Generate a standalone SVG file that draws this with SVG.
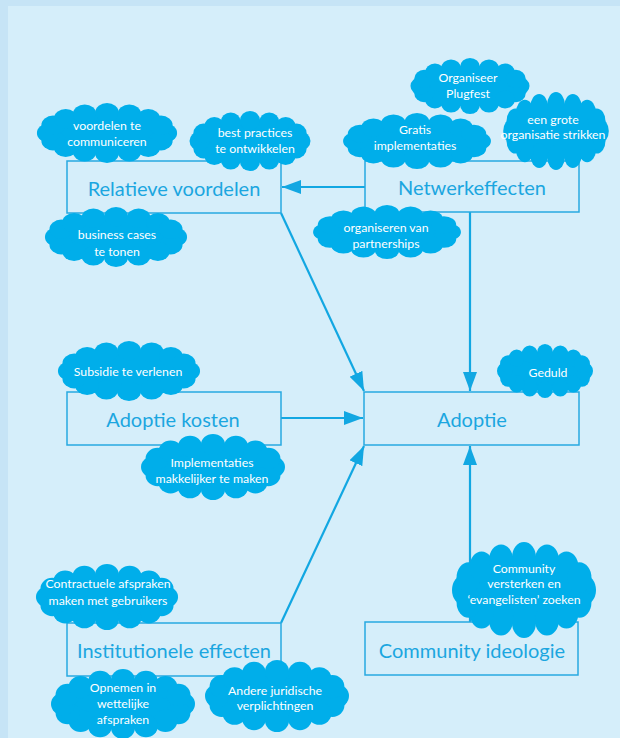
<svg xmlns="http://www.w3.org/2000/svg" xmlns:xlink="http://www.w3.org/1999/xlink" width="620" height="738" viewBox="0 0 620 738">
<style>
.box{fill:none;stroke:#27a9e1;stroke-width:1.5}
.bt{font-family:Lato,"Open Sans",sans-serif;font-size:20px;font-weight:400;fill:#1ba6e0;text-anchor:middle}
.ct{font-family:Lato,"Open Sans",sans-serif;font-size:12.3px;fill:#ffffff;text-anchor:middle}
.cl{fill:#00aeea}
.ln{stroke:#12a7e2;stroke-width:2.2;fill:none;marker-end:url(#ah)}
</style>
<defs>
<marker id="ah" markerUnits="userSpaceOnUse" markerWidth="20" markerHeight="15" refX="19" refY="7" orient="auto">
<path d="M0,0 L19,7 L0,14 z" fill="#12a7e2"/>
</marker>
<g id="cloud">
<ellipse cx="100" cy="50" rx="82" ry="36"/>
<circle cx="180" cy="50" r="16"/>
<circle cx="173.9" cy="63" r="16"/>
<circle cx="156.6" cy="74" r="16"/>
<circle cx="130.6" cy="81.4" r="16"/>
<circle cx="100" cy="84" r="16"/>
<circle cx="69.4" cy="81.4" r="16"/>
<circle cx="43.4" cy="74" r="16"/>
<circle cx="26.1" cy="63" r="16"/>
<circle cx="20" cy="50" r="16"/>
<circle cx="26.1" cy="37" r="16"/>
<circle cx="43.4" cy="26" r="16"/>
<circle cx="69.4" cy="18.6" r="16"/>
<circle cx="100" cy="16" r="16"/>
<circle cx="130.6" cy="18.6" r="16"/>
<circle cx="156.6" cy="26" r="16"/>
<circle cx="173.9" cy="37" r="16"/>
</g>
</defs>
<rect x="0" y="0" width="620" height="738" fill="#c6e4f6"/>
<rect x="8" y="6" width="612" height="732" fill="#d5eefa"/>

<g id="connectors">
<line class="ln" x1="365" y1="187" x2="282" y2="187"/>
<line class="ln" x1="281" y1="213" x2="364" y2="391"/>
<line class="ln" x1="470" y1="212" x2="470" y2="391"/>
<line class="ln" x1="281" y1="418" x2="363" y2="418"/>
<line class="ln" x1="281" y1="623" x2="364" y2="446"/>
<line class="ln" x1="470" y1="622" x2="470" y2="446"/>
</g>

<g id="relatieve-voordelen"><rect class="box" x="67" y="161" width="214" height="52"/><text class="bt" x="174" y="196">Relatieve voordelen</text></g>
<g id="netwerkeffecten"><rect class="box" x="365" y="161" width="214" height="51"/><text class="bt" x="472" y="195">Netwerkeffecten</text></g>
<g id="adoptie-kosten"><rect class="box" x="67" y="392" width="214" height="53"/><text class="bt" x="173" y="427">Adoptie kosten</text></g>
<g id="adoptie"><rect class="box" x="364" y="392" width="215" height="53"/><text class="bt" x="472" y="427">Adoptie</text></g>
<g id="institutionele-effecten"><rect class="box" x="67" y="623" width="214" height="53"/><text class="bt" x="174" y="658">Institutionele effecten</text></g>
<g id="community-ideologie"><rect class="box" x="365" y="622" width="213" height="53"/><text class="bt" x="472" y="658">Community ideologie</text></g>

<g id="c1"><use class="cl" xlink:href="#cloud" href="#cloud" transform="translate(34 103) scale(.73 .6)"/><text class="ct" x="107" y="130">voordelen te</text><text class="ct" x="107" y="146">communiceren</text></g>
<g id="c2"><use class="cl" xlink:href="#cloud" href="#cloud" transform="translate(187 111) scale(.63 .6)"/><text class="ct" x="255" y="137">best practices</text><text class="ct" x="255" y="153">te ontwikkelen</text></g>
<g id="c3"><use class="cl" xlink:href="#cloud" href="#cloud" transform="translate(42 207) scale(.74 .6)"/><text class="ct" x="117" y="239">business cases</text><text class="ct" x="117" y="256">te tonen</text></g>
<g id="c4"><use class="cl" xlink:href="#cloud" href="#cloud" transform="translate(408 58) scale(.62 .56)"/><text class="ct" x="468" y="82">Organiseer</text><text class="ct" x="468" y="98">Plugfest</text></g>
<g id="c5"><use class="cl" xlink:href="#cloud" href="#cloud" transform="translate(340 113) scale(.77 .56)"/><text class="ct" x="415" y="134">Gratis</text><text class="ct" x="415" y="150">implementaties</text></g>
<g id="c6"><use class="cl" xlink:href="#cloud" href="#cloud" transform="translate(501 92) scale(.55 .78)"/><text class="ct" x="553" y="124">een grote</text><text class="ct" x="553" y="139">organisatie strikken</text></g>
<g id="c7"><use class="cl" xlink:href="#cloud" href="#cloud" transform="translate(310 205) scale(.77 .54)"/><text class="ct" x="386" y="232">organiseren van</text><text class="ct" x="386" y="248">partnerships</text></g>
<g id="c8"><use class="cl" xlink:href="#cloud" href="#cloud" transform="translate(55 341) scale(.74 .6)"/><text class="ct" x="128" y="376">Subsidie te verlenen</text></g>
<g id="c9"><use class="cl" xlink:href="#cloud" href="#cloud" transform="translate(138 434) scale(.75 .66)"/><text class="ct" x="212" y="467">Implementaties</text><text class="ct" x="212" y="483">makkelijker te maken</text></g>
<g id="c10"><use class="cl" xlink:href="#cloud" href="#cloud" transform="translate(495 344) scale(.5 .54)"/><text class="ct" x="548" y="377">Geduld</text></g>
<g id="c11"><use class="cl" xlink:href="#cloud" href="#cloud" transform="translate(33 564) scale(.74 .66)"/><text class="ct" x="108" y="588">Contractuele afspraken</text><text class="ct" x="108" y="605">maken met gebruikers</text></g>
<g id="c12"><use class="cl" xlink:href="#cloud" href="#cloud" transform="translate(48 669) scale(.75 .7)"/><text class="ct" x="123" y="692">Opnemen in</text><text class="ct" x="123" y="708">wettelijke</text><text class="ct" x="123" y="724">afspraken</text></g>
<g id="c13"><use class="cl" xlink:href="#cloud" href="#cloud" transform="translate(202 660) scale(.75 .72)"/><text class="ct" x="275" y="695">Andere juridische</text><text class="ct" x="275" y="710">verplichtingen</text></g>
<g id="c14"><use class="cl" xlink:href="#cloud" href="#cloud" transform="translate(449 542) scale(.75 .96)"/><text class="ct" x="524" y="573">Community</text><text class="ct" x="524" y="588">versterken en</text><text class="ct" x="524" y="604">‘evangelisten’ zoeken</text></g>
</svg>
